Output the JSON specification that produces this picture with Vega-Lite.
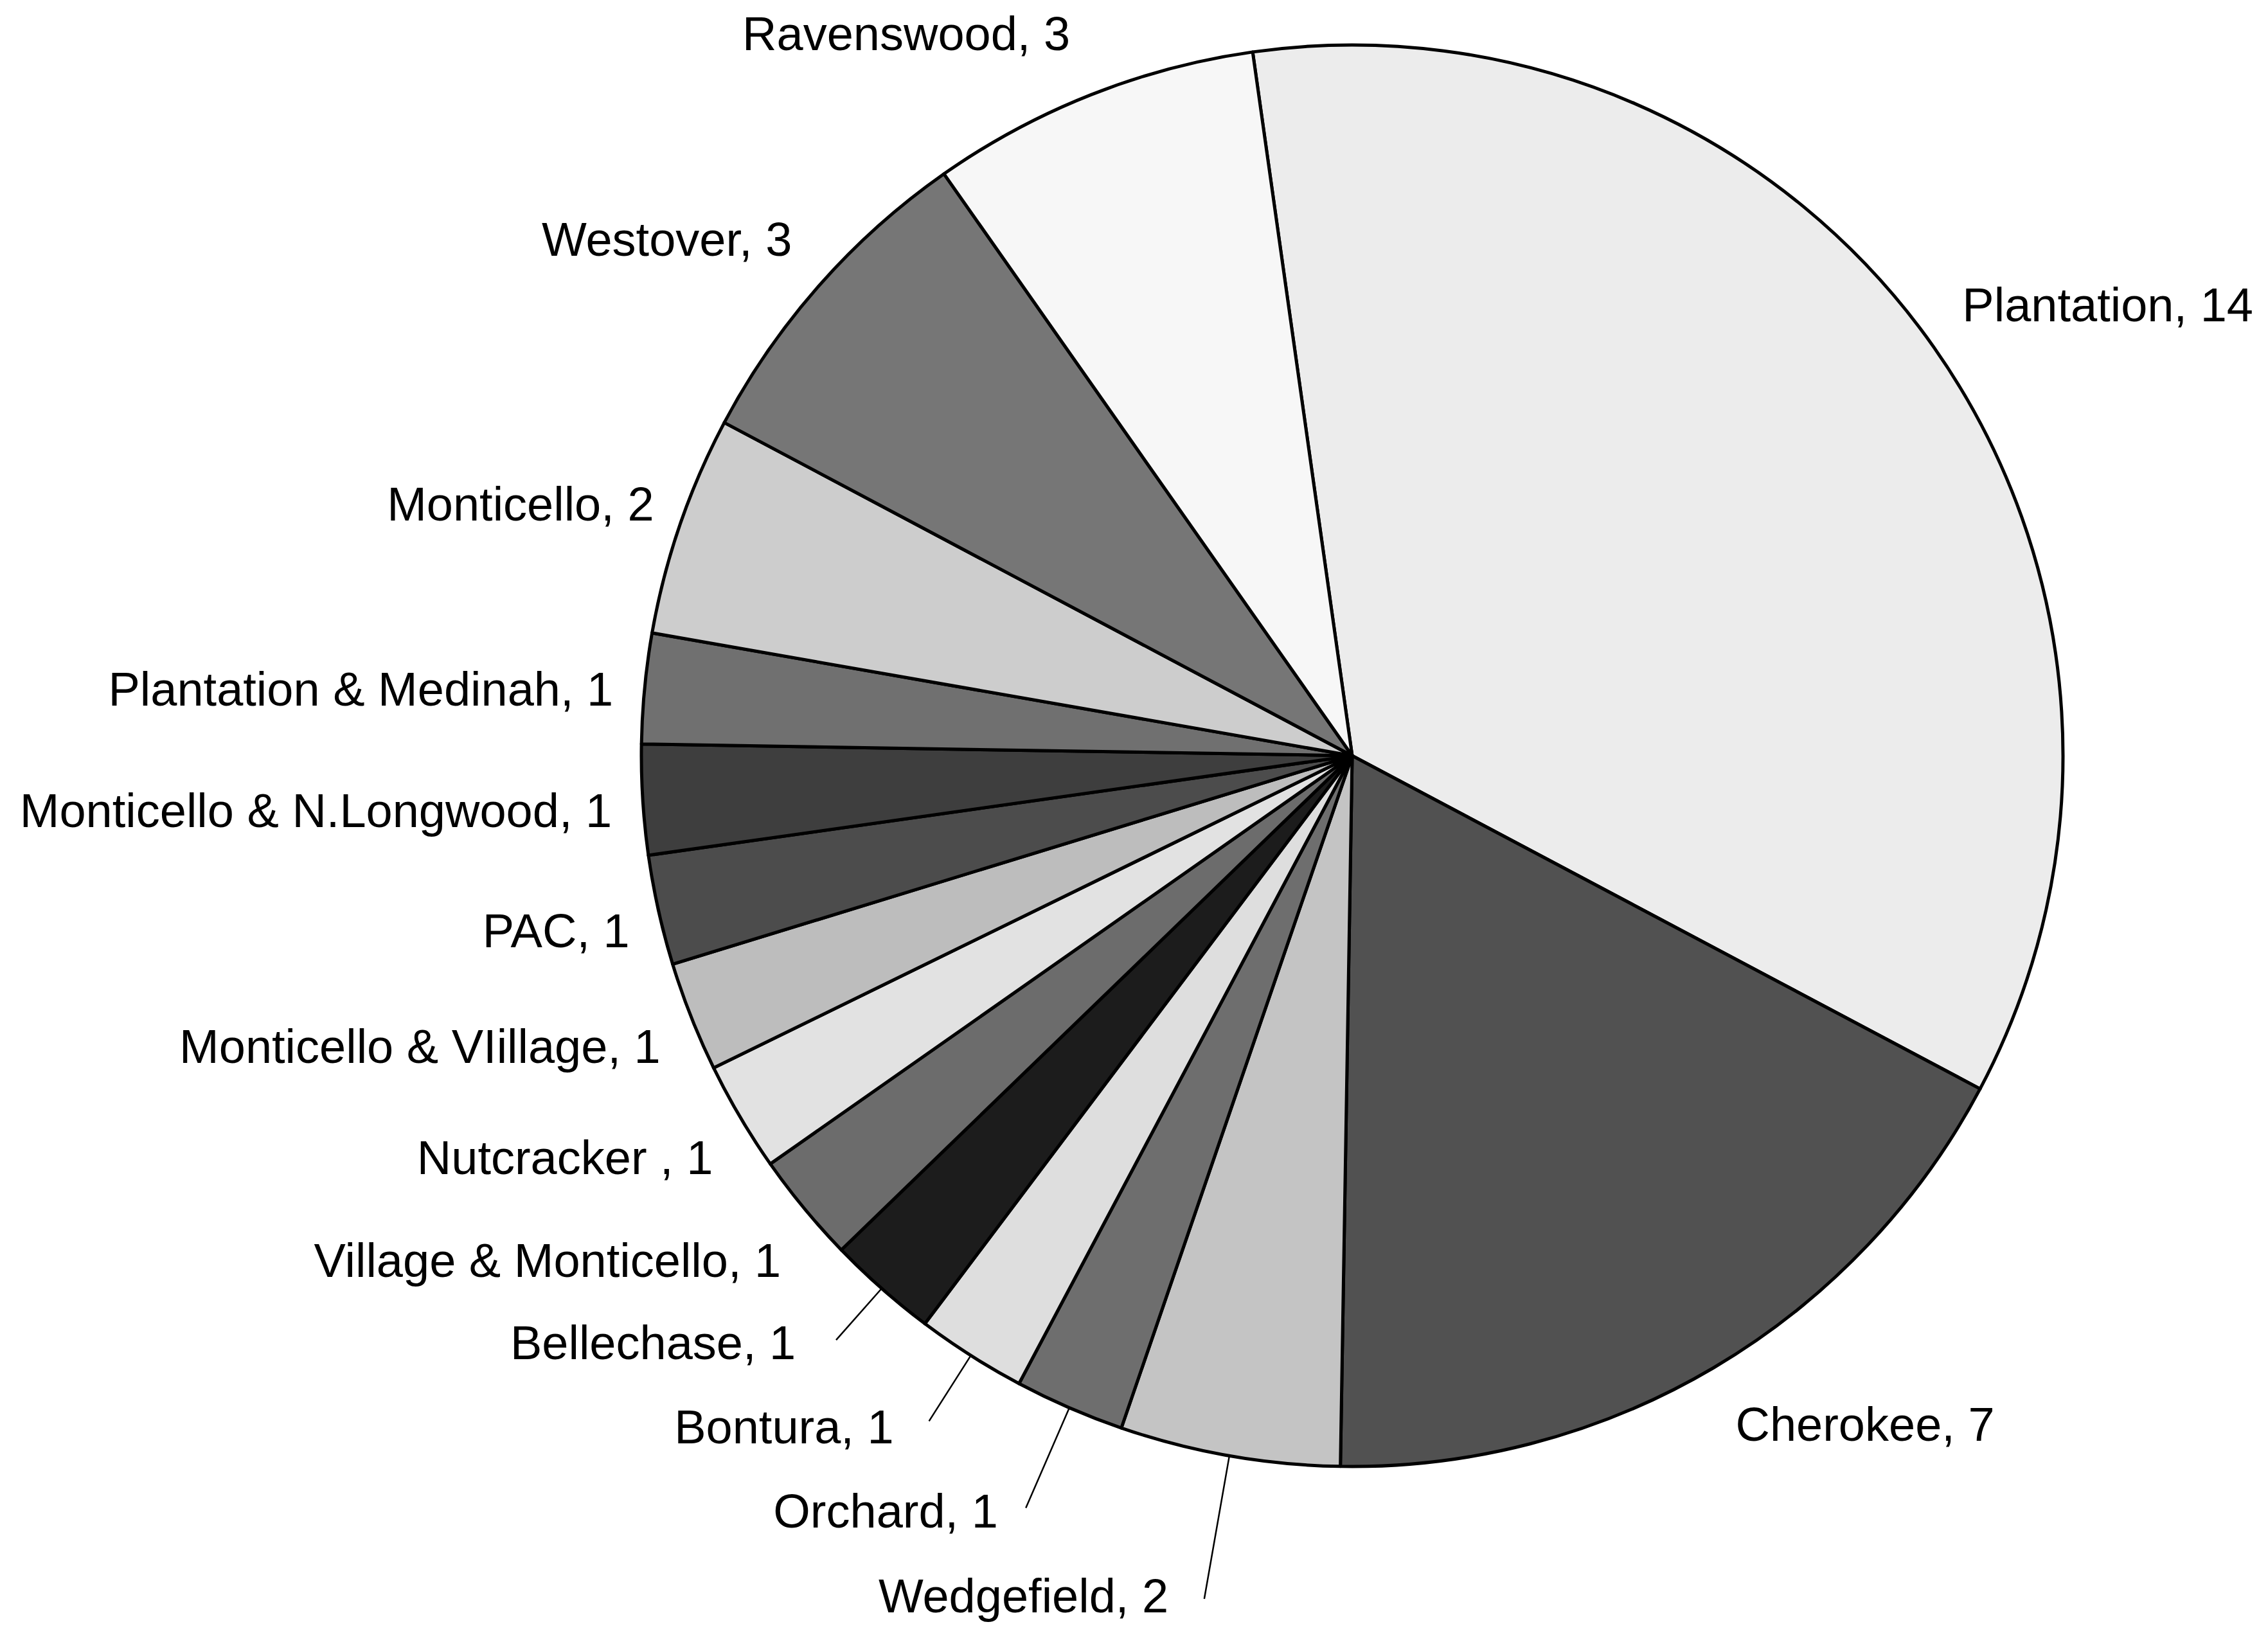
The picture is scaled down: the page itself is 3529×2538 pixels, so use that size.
{
  "$schema": "https://vega.github.io/schema/vega-lite/v6.json",
  "autosize": {"type": "none"},
  "width": 2000,
  "height": 2000,
  "padding": {"left": 1104, "top": 176, "right": 425, "bottom": 362},
  "background": "white",
  "config": {"view": {"stroke": null}, "text": {"font": "Liberation Sans", "fontSize": 74, "color": "black", "baseline": "middle"}},
  "data": {
    "values": [
      {"order": 1, "name": "Plantation", "label": "Plantation, 14", "value": 14},
      {"order": 2, "name": "Cherokee", "label": "Cherokee, 7", "value": 7},
      {"order": 3, "name": "Wedgefield", "label": "Wedgefield, 2", "value": 2},
      {"order": 4, "name": "Orchard", "label": "Orchard, 1", "value": 1},
      {"order": 5, "name": "Bontura", "label": "Bontura, 1", "value": 1},
      {"order": 6, "name": "Bellechase", "label": "Bellechase, 1", "value": 1},
      {"order": 7, "name": "Village & Monticello", "label": "Village & Monticello, 1", "value": 1},
      {"order": 8, "name": "Nutcracker", "label": "Nutcracker , 1", "value": 1},
      {"order": 9, "name": "Monticello & VIillage", "label": "Monticello & VIillage, 1", "value": 1},
      {"order": 10, "name": "PAC", "label": "PAC, 1", "value": 1},
      {"order": 11, "name": "Monticello & N.Longwood", "label": "Monticello & N.Longwood, 1", "value": 1},
      {"order": 12, "name": "Plantation & Medinah", "label": "Plantation & Medinah, 1", "value": 1},
      {"order": 13, "name": "Monticello", "label": "Monticello, 2", "value": 2},
      {"order": 14, "name": "Westover", "label": "Westover, 3", "value": 3},
      {"order": 15, "name": "Ravenswood", "label": "Ravenswood, 3", "value": 3}
    ]
  },
  "encoding": {
    "theta": {"field": "value", "type": "quantitative", "stack": true, "scale": {"range": [-0.1405, 6.1427]}},
    "order": {"field": "order", "type": "quantitative"},
    "detail": {"field": "name", "type": "nominal"}
  },
  "layer": [
    {
      "mark": {"type": "arc", "radius": 1106, "stroke": "black", "strokeWidth": 5, "strokeJoin": "round"},
      "encoding": {
        "color": {
          "field": "name", "type": "nominal", "legend": null,
          "scale": {
            "domain": ["Plantation", "Cherokee", "Wedgefield", "Orchard", "Bontura", "Bellechase", "Village & Monticello", "Nutcracker", "Monticello & VIillage", "PAC", "Monticello & N.Longwood", "Plantation & Medinah", "Monticello", "Westover", "Ravenswood"],
            "range": ["#ececec", "#515151", "#c4c4c4", "#6e6e6e", "#dedede", "#1c1c1c", "#6c6c6c", "#e2e2e2", "#bdbdbd", "#4c4c4c", "#3e3e3e", "#707070", "#cdcdcd", "#767676", "#f7f7f7"]
          }
        }
      }
    },
    {
      "mark": {"type": "arc", "radius": 1213, "radius2": 1106, "padAngle": 1, "fill": null, "stroke": "black", "strokeWidth": 2.5},
      "encoding": {"strokeOpacity": {"condition": {"test": "datum.name === 'Bellechase'", "value": 1}, "value": 0}}
    },
    {
      "mark": {"type": "arc", "radius": 1227, "radius2": 1106, "padAngle": 1, "fill": null, "stroke": "black", "strokeWidth": 2.5},
      "encoding": {"strokeOpacity": {"condition": {"test": "datum.name === 'Bontura'", "value": 1}, "value": 0}}
    },
    {
      "mark": {"type": "arc", "radius": 1276, "radius2": 1106, "padAngle": 1, "fill": null, "stroke": "black", "strokeWidth": 2.5},
      "encoding": {"strokeOpacity": {"condition": {"test": "datum.name === 'Orchard'", "value": 1}, "value": 0}}
    },
    {
      "mark": {"type": "arc", "radius": 1332, "radius2": 1106, "padAngle": 1, "fill": null, "stroke": "black", "strokeWidth": 2.5},
      "encoding": {"strokeOpacity": {"condition": {"test": "datum.name === 'Wedgefield'", "value": 1}, "value": 0}}
    },
    {
      "mark": {"type": "text", "radius": 1178, "align": "left", "dx": -15, "dy": -21},
      "encoding": {"text": {"condition": {"test": "datum.name === 'Plantation'", "field": "label", "type": "nominal"}, "value": ""}}
    },
    {
      "mark": {"type": "text", "radius": 1203, "align": "left", "dx": -15, "dy": 8},
      "encoding": {"text": {"condition": {"test": "datum.name === 'Cherokee'", "field": "label", "type": "nominal"}, "value": ""}}
    },
    {
      "mark": {"type": "text", "radius": 1203, "align": "right", "dx": 3, "dy": -1},
      "encoding": {"text": {"condition": {"test": "datum.name === 'Ravenswood'", "field": "label", "type": "nominal"}, "value": ""}}
    },
    {
      "mark": {"type": "text", "radius": 1183, "align": "right", "dx": 15, "dy": -17},
      "encoding": {"text": {"condition": {"test": "datum.name === 'Westover'", "field": "label", "type": "nominal"}, "value": ""}}
    },
    {
      "mark": {"type": "text", "radius": 1154, "align": "right", "dx": 5, "dy": -13},
      "encoding": {"text": {"condition": {"test": "datum.name === 'Monticello'", "field": "label", "type": "nominal"}, "value": ""}}
    },
    {
      "mark": {"type": "text", "radius": 1154, "align": "right", "dx": -1, "dy": 10},
      "encoding": {"text": {"condition": {"test": "datum.name === 'Plantation & Medinah'", "field": "label", "type": "nominal"}, "value": ""}}
    },
    {
      "mark": {"type": "text", "radius": 1155, "align": "right", "dx": 1, "dy": 17},
      "encoding": {"text": {"condition": {"test": "datum.name === 'Monticello & N.Longwood'", "field": "label", "type": "nominal"}, "value": ""}}
    },
    {
      "mark": {"type": "text", "radius": 1158, "align": "right", "dx": 6, "dy": 24},
      "encoding": {"text": {"condition": {"test": "datum.name === 'PAC'", "field": "label", "type": "nominal"}, "value": ""}}
    },
    {
      "mark": {"type": "text", "radius": 1169, "align": "right", "dx": 11, "dy": 27},
      "encoding": {"text": {"condition": {"test": "datum.name === 'Monticello & VIillage'", "field": "label", "type": "nominal"}, "value": ""}}
    },
    {
      "mark": {"type": "text", "radius": 1177, "align": "right", "dx": 19, "dy": 31},
      "encoding": {"text": {"condition": {"test": "datum.name === 'Nutcracker'", "field": "label", "type": "nominal"}, "value": ""}}
    },
    {
      "mark": {"type": "text", "radius": 1189, "align": "right", "dx": 28, "dy": 32},
      "encoding": {"text": {"condition": {"test": "datum.name === 'Village & Monticello'", "field": "label", "type": "nominal"}, "value": ""}}
    },
    {
      "mark": {"type": "text", "radius": 1261, "align": "right", "dx": -31, "dy": -28},
      "encoding": {"text": {"condition": {"test": "datum.name === 'Bellechase'", "field": "label", "type": "nominal"}, "value": ""}}
    },
    {
      "mark": {"type": "text", "radius": 1268, "align": "right", "dx": -33, "dy": -22},
      "encoding": {"text": {"condition": {"test": "datum.name === 'Bontura'", "field": "label", "type": "nominal"}, "value": ""}}
    },
    {
      "mark": {"type": "text", "radius": 1302, "align": "right", "dx": -33, "dy": -15},
      "encoding": {"text": {"condition": {"test": "datum.name === 'Orchard'", "field": "label", "type": "nominal"}, "value": ""}}
    },
    {
      "mark": {"type": "text", "radius": 1342, "align": "right", "dx": -54, "dy": -11},
      "encoding": {"text": {"condition": {"test": "datum.name === 'Wedgefield'", "field": "label", "type": "nominal"}, "value": ""}}
    }
  ]
}
